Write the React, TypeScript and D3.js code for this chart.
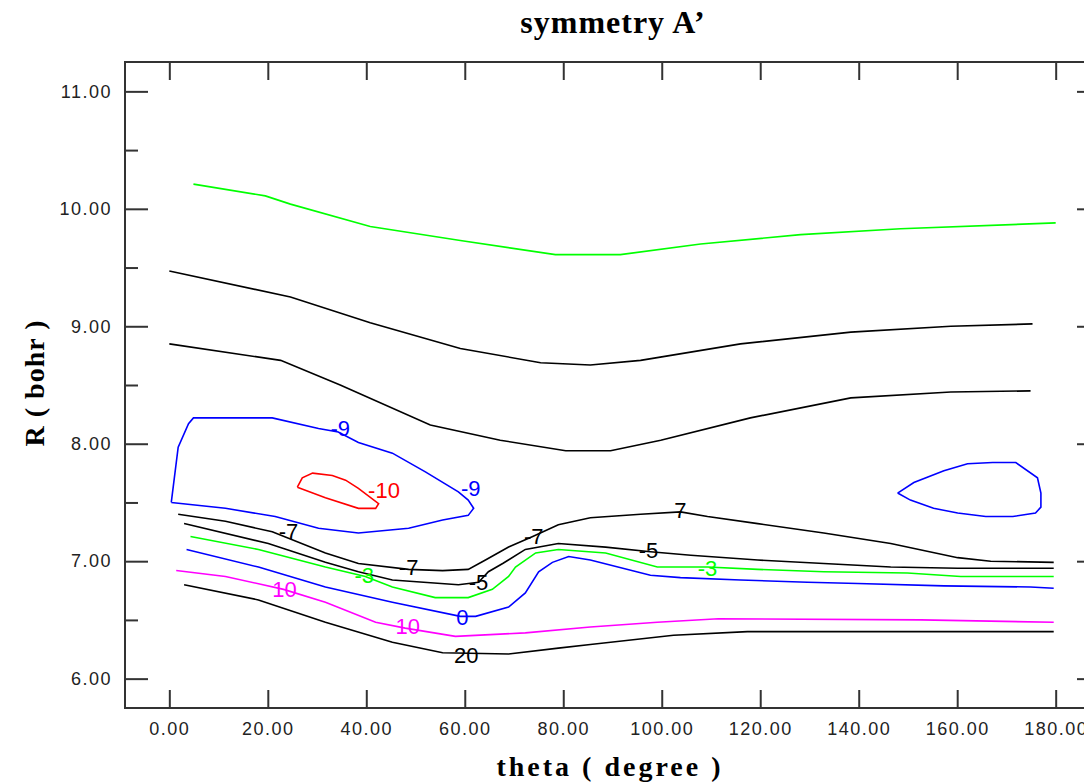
import { useEffect, useRef } from 'react';
import * as d3 from 'd3';

type Pt = [number, number];

// theta (deg), R (bohr)
const thetaTicks = [0, 20, 40, 60, 80, 100, 120, 140, 160, 180];
const rTicks = [6, 7, 8, 9, 10, 11];
const rMinorTicks = [6.5, 7.5, 8.5, 9.5, 10.5];

const greenTop: Pt[] = [
  [4.9, 10.21], [19.5, 10.11], [24.6, 10.04], [40.8, 9.85], [59.1, 9.73], [78.4, 9.61],
  [91.6, 9.61], [107.9, 9.7], [128.2, 9.78], [148.5, 9.83], [180, 9.88],
];
const blackUpper: Pt[] = [
  [0, 9.47], [24.6, 9.25], [40.8, 9.03], [59.1, 8.81], [75.4, 8.69], [85.5, 8.67],
  [95.7, 8.71], [116, 8.85], [138.4, 8.95], [158.7, 9.0], [175.3, 9.02],
];
const blackMiddle: Pt[] = [
  [0, 8.85], [22.6, 8.71], [34.7, 8.5], [53, 8.16], [67.2, 8.03], [80.5, 7.94],
  [89.6, 7.94], [99.8, 8.03], [118, 8.22], [138.4, 8.39], [158.7, 8.44], [174.9, 8.45],
];
const blueLoopLeft: Pt[] = [
  [0.4, 7.5], [1.8, 7.97], [3.9, 8.17], [4.9, 8.22], [12.8, 8.22], [20.9, 8.22],
  [30.3, 8.13], [34.3, 8.1], [38.4, 8.01], [45.3, 7.92], [52, 7.76], [58.7, 7.59],
  [60.7, 7.52], [61.8, 7.45], [60.7, 7.39], [55.5, 7.35], [48.6, 7.28], [38.4, 7.24],
  [30.3, 7.28], [21.5, 7.38], [11.4, 7.45], [0.4, 7.5],
];
const redLoop: Pt[] = [
  [26, 7.63], [27, 7.71], [29.1, 7.75], [33.1, 7.73], [35.8, 7.69], [38.4, 7.62],
  [42.5, 7.49], [41.9, 7.45], [38.4, 7.45], [31.7, 7.54], [26, 7.63],
];
const blueLoopRight: Pt[] = [
  [147.9, 7.58], [151.2, 7.67], [157.3, 7.77], [162.1, 7.83], [167.2, 7.84], [171.9, 7.84],
  [176.3, 7.71], [177, 7.58], [177, 7.46], [175.9, 7.41], [171.3, 7.38], [165.8, 7.38],
  [160.1, 7.41], [155.2, 7.45], [150.5, 7.52], [147.9, 7.58],
];
const blackMinus7: Pt[] = [
  [1.8, 7.4], [11.4, 7.34], [20.9, 7.25], [31.7, 7.07], [38.4, 6.98], [48.6, 6.93],
  [55.5, 6.92], [60.7, 6.93], [64.2, 7.01], [68.9, 7.12], [73.8, 7.21], [79, 7.31],
  [85.5, 7.37], [95.7, 7.4], [103.8, 7.42], [109.3, 7.38], [119.5, 7.32], [132.9, 7.24],
  [146.5, 7.15], [160.1, 7.03], [166.8, 7.0], [179.6, 6.99],
];
const blackMinus5: Pt[] = [
  [3, 7.32], [20.1, 7.15], [31.7, 6.99], [38.4, 6.91], [45.3, 6.84], [58.7, 6.8],
  [62.8, 6.82], [64.8, 6.91], [67.7, 6.98], [72.3, 7.1], [79, 7.15], [88.6, 7.12],
  [97.7, 7.08], [105.9, 7.05], [119.5, 7.01], [132.9, 6.98], [146.5, 6.95], [160.1, 6.94],
  [179.6, 6.94],
];
const greenMinus3: Pt[] = [
  [4.3, 7.21], [18.1, 7.1], [31.7, 6.95], [39.8, 6.87], [45.3, 6.78], [54, 6.69],
  [60.7, 6.69], [65.6, 6.76], [68.9, 6.87], [70.3, 6.95], [74.4, 7.07], [79, 7.1],
  [88.6, 7.07], [99.1, 6.95], [109.3, 6.95], [119.5, 6.93], [132.9, 6.91], [149.9, 6.9],
  [160.7, 6.87], [179.6, 6.87],
];
const blueZero: Pt[] = [
  [3.5, 7.1], [18.1, 6.95], [31.7, 6.78], [45.3, 6.65], [59.1, 6.53], [62.2, 6.53],
  [68.9, 6.61], [72.3, 6.73], [75, 6.91], [77.8, 6.99], [81.1, 7.04], [85.5, 7.01],
  [97.7, 6.88], [103.8, 6.86], [116, 6.84], [129.6, 6.82], [139.8, 6.81], [157.3, 6.79],
  [174.9, 6.78], [179.6, 6.77],
];
const magentaTen: Pt[] = [
  [1.4, 6.92], [11.4, 6.87], [23.2, 6.76], [31.7, 6.65], [41.9, 6.48], [47.9, 6.43],
  [58.1, 6.36], [72.3, 6.39], [85.5, 6.44], [99.1, 6.48], [111.5, 6.51], [152.6, 6.5],
  [179.6, 6.48],
];
const blackTwenty: Pt[] = [
  [3, 6.8], [18.1, 6.67], [31.7, 6.48], [45.3, 6.31], [55.5, 6.22], [68.9, 6.21],
  [79, 6.26], [85.5, 6.29], [102.4, 6.37], [117.4, 6.4], [179.6, 6.4],
];

const contours = [
  { pts: greenTop, color: '#00ff00' },
  { pts: blackUpper, color: '#000000' },
  { pts: blackMiddle, color: '#000000' },
  { pts: blueLoopLeft, color: '#0000ff' },
  { pts: redLoop, color: '#ff0000' },
  { pts: blueLoopRight, color: '#0000ff' },
  { pts: blackMinus7, color: '#000000' },
  { pts: blackMinus5, color: '#000000' },
  { pts: greenMinus3, color: '#00ff00' },
  { pts: blueZero, color: '#0000ff' },
  { pts: magentaTen, color: '#ff00ff' },
  { pts: blackTwenty, color: '#000000' },
];

const labelTexts = ['-9', '-9', '-10', '-7', '-7', '-7', '7', '-5', '-5', '-3', '-3', '0', '10', '10', '20'];
const labelTheta = [34.7, 61.2, 43.6, 24.2, 48.6, 74.0, 103.8, 97.3, 62.8, 39.6, 109.3, 59.5, 23.4, 48.4, 60.3];
const labelR = [8.13, 7.62, 7.6, 7.25, 6.95, 7.21, 7.43, 7.09, 6.82, 6.88, 6.94, 6.52, 6.76, 6.44, 6.2];
const labelColors = ['#0000ff', '#0000ff', '#ff0000', '#000000', '#000000', '#000000', '#000000', '#000000',
  '#000000', '#00ff00', '#00ff00', '#0000ff', '#ff00ff', '#ff00ff', '#000000'];

const ContourChart = () => {
  const chartRef = useRef<SVGSVGElement>(null);

  useEffect(() => {
    const svg = d3.select(chartRef.current);
    svg.selectAll('*').remove();

    const left = 125, right = 1100, top = 62, bottom = 708;

    const x = d3.scaleLinear().domain([-9, 189]).range([left, right]);
    const y = d3.scaleLinear().domain([5.75, 11.25]).range([bottom, top]);

    const tickFont = '"Liberation Sans", Arial, sans-serif';

    // frame
    svg.append('rect')
      .attr('x', left).attr('y', top)
      .attr('width', right - left).attr('height', bottom - top)
      .attr('fill', 'none').attr('stroke', '#333').attr('stroke-width', 2);

    const styleAxis = (g) => {
      g.select('.domain').remove();
      g.selectAll('line').attr('stroke', '#333').attr('stroke-width', 2);
      g.selectAll('text')
        .attr('font-family', tickFont).attr('font-size', 18)
        .attr('letter-spacing', 1.5).attr('fill', '#222');
    };

    svg.append('g')
      .attr('transform', `translate(0,${bottom})`)
      .call(d3.axisBottom(x).tickValues(thetaTicks).tickSize(-18).tickPadding(14).tickFormat(d3.format('.2f')))
      .call(styleAxis);

    svg.append('g')
      .attr('transform', `translate(0,${top})`)
      .call(d3.axisTop(x).tickValues(thetaTicks).tickSize(-18).tickFormat(() => ''))
      .call(styleAxis);

    svg.append('g')
      .attr('transform', `translate(${left},0)`)
      .call(d3.axisLeft(y).tickValues(rTicks).tickSize(-23).tickPadding(13).tickFormat(d3.format('.2f')))
      .call(styleAxis);

    svg.append('g')
      .attr('transform', `translate(${left},0)`)
      .call(d3.axisLeft(y).tickValues(rMinorTicks).tickSize(-13).tickFormat(() => ''))
      .call(styleAxis);

    svg.append('g')
      .attr('transform', `translate(${right},0)`)
      .call(d3.axisRight(y).tickValues(rTicks).tickSize(-23).tickFormat(() => ''))
      .call(styleAxis);

    const line = d3.line<Pt>()
      .x(d => x(d[0]))
      .y(d => y(d[1]));

    svg.append('g')
      .selectAll('path')
      .data(contours)
      .join('path')
      .attr('fill', 'none')
      .attr('stroke', d => d.color)
      .attr('stroke-width', 1.6)
      .attr('d', d => line(d.pts));

    svg.append('g')
      .selectAll('text')
      .data(labelTexts)
      .join('text')
      .attr('x', (d, i) => x(labelTheta[i]))
      .attr('y', (d, i) => y(labelR[i]))
      .attr('text-anchor', 'middle')
      .attr('dominant-baseline', 'central')
      .attr('font-family', tickFont)
      .attr('font-size', 22)
      .attr('fill', (d, i) => labelColors[i])
      .text(d => d);

    const titleFont = '"Liberation Serif", "Times New Roman", serif';

    svg.append('text')
      .attr('x', 613).attr('y', 33)
      .attr('text-anchor', 'middle')
      .attr('font-family', titleFont).attr('font-weight', 'bold')
      .attr('font-size', 32).attr('letter-spacing', 1)
      .text('symmetry A’');

    svg.append('text')
      .attr('x', 610).attr('y', 776)
      .attr('text-anchor', 'middle')
      .attr('font-family', titleFont).attr('font-weight', 'bold')
      .attr('font-size', 28).attr('letter-spacing', 3)
      .text('theta ( degree )');

    svg.append('text')
      .attr('transform', 'translate(44,383) rotate(-90)')
      .attr('text-anchor', 'middle')
      .attr('font-family', titleFont).attr('font-weight', 'bold')
      .attr('font-size', 28).attr('letter-spacing', 1)
      .text('R ( bohr )');
  }, []);

  return (
    <svg
      ref={chartRef}
      width={1084}
      height={782}
      style={{ position: 'absolute', left: 0, top: 0, background: '#fff', overflow: 'hidden' }}
    />
  );
};

export default function App() {
  return <ContourChart />;
}
